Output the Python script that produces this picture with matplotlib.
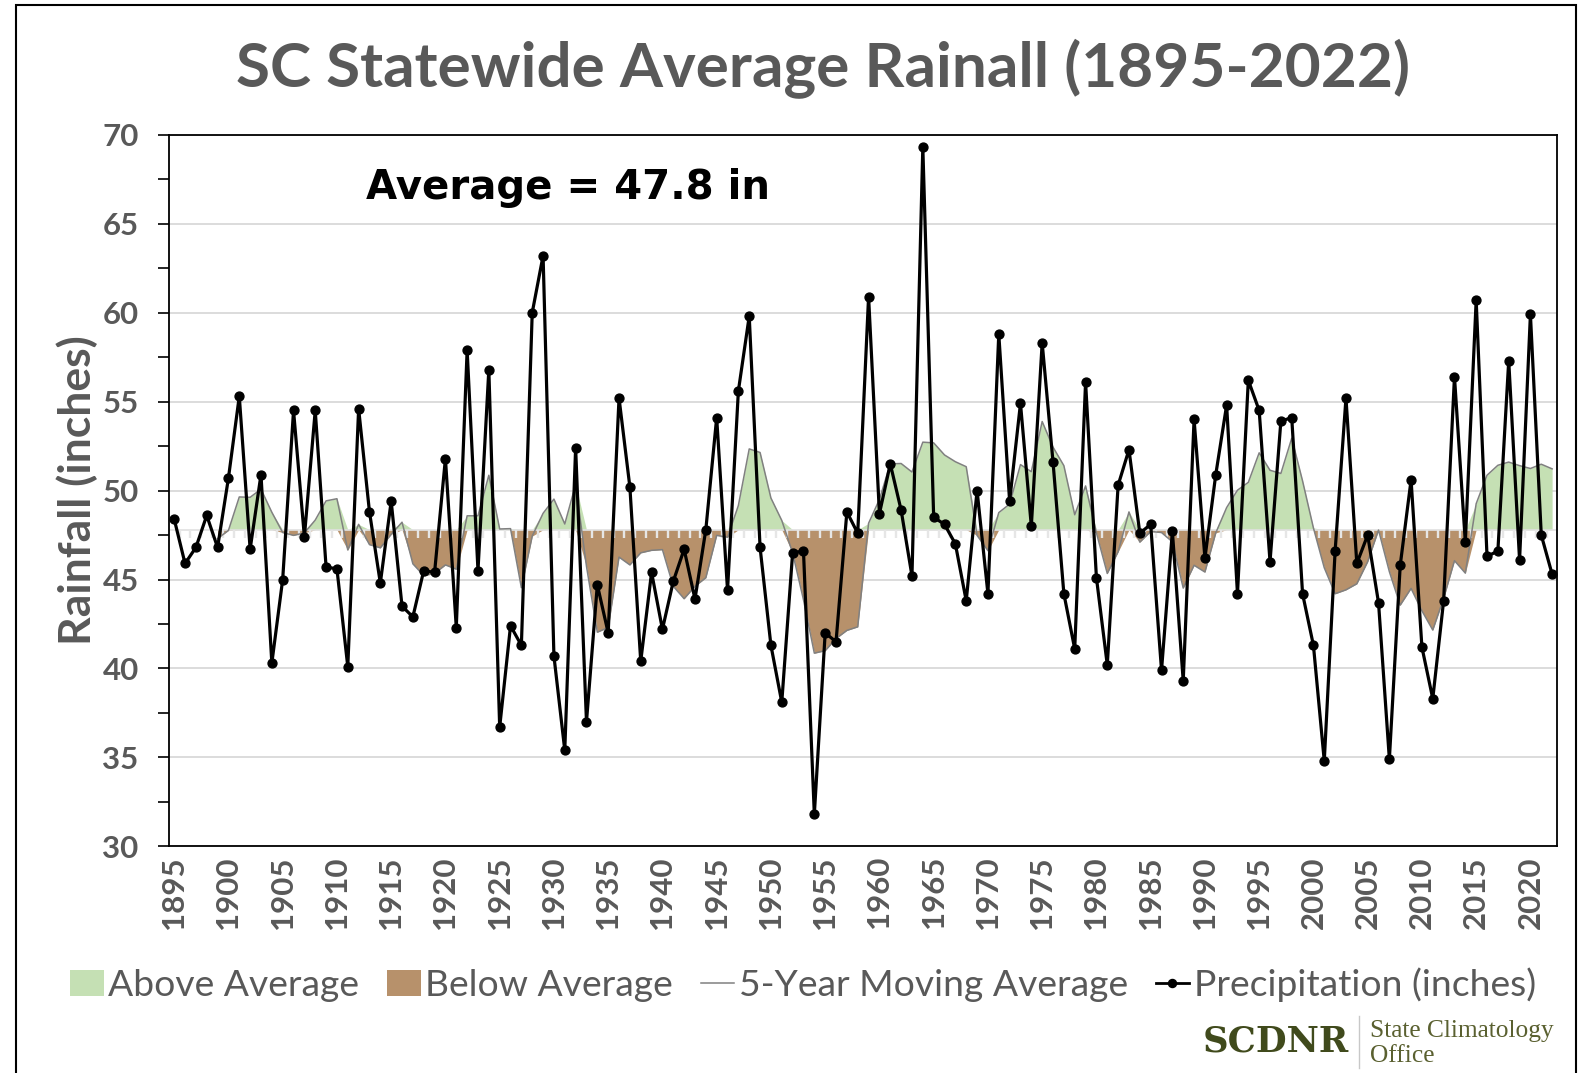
import matplotlib
matplotlib.use("Agg")
import matplotlib.pyplot as plt
import numpy as np
import pandas as pd
from matplotlib.patches import Patch, Rectangle
from matplotlib.lines import Line2D

# ---------------- data ----------------
years = list(range(1895, 2023))
precip = [
    48.4, 45.9, 46.8, 48.6, 46.8, 50.7, 55.3, 46.7, 50.9, 40.3,   # 1895-1904
    45.0, 54.5, 47.4, 54.5, 45.7, 45.6, 40.1, 54.6, 48.8, 44.8,   # 1905-1914
    49.4, 43.5, 42.9, 45.5, 45.4, 51.8, 42.3, 57.9, 45.5, 56.8,   # 1915-1924
    36.7, 42.4, 41.3, 60.0, 63.2, 40.7, 35.4, 52.4, 37.0, 44.7,   # 1925-1934
    42.0, 55.2, 50.2, 40.4, 45.4, 42.2, 44.9, 46.7, 43.9, 47.8,   # 1935-1944
    54.1, 44.4, 55.6, 59.8, 46.8, 41.3, 38.1, 46.5, 46.6, 31.8,   # 1945-1954
    42.0, 41.5, 48.8, 47.6, 60.9, 48.7, 51.5, 48.9, 45.2, 69.3,   # 1955-1964
    48.5, 48.1, 47.0, 43.8, 50.0, 44.2, 58.8, 49.4, 54.9, 48.0,   # 1965-1974
    58.3, 51.6, 44.2, 41.1, 56.1, 45.1, 40.2, 50.3, 52.3, 47.6,   # 1975-1984
    48.1, 39.9, 47.7, 39.3, 54.0, 46.2, 50.9, 54.8, 44.2, 56.2,   # 1985-1994
    54.5, 46.0, 53.9, 54.1, 44.2, 41.3, 34.8, 46.6, 55.2, 45.9,   # 1995-2004
    47.5, 43.7, 34.9, 45.8, 50.6, 41.2, 38.3, 43.8, 56.4, 47.1,   # 2005-2014
    60.7, 46.3, 46.6, 57.3, 46.1, 59.9, 47.5, 45.3,               # 2015-2022
]
average = 47.8
tick_years = list(range(1895, 2021, 5))
yticks = [30, 35, 40, 45, 50, 55, 60, 65, 70]

title = "SC Statewide Average Rainall (1895-2022)"
avg_label = "Average = 47.8 in"
ylabel = "Rainfall (inches)"
legend_labels = ["Above Average", "Below Average", "5-Year Moving Average", "Precipitation (inches)"]

# ---------------- derived ----------------
yrs = np.array(years, dtype=float)
pr = np.array(precip)
ma = pd.Series(pr).rolling(5).mean().to_numpy()
valid = ~np.isnan(ma)
above = np.where(valid, np.maximum(ma, average), np.nan)
below = np.where(valid, np.minimum(ma, average), np.nan)

# ---------------- style ----------------
GRAY_TXT = "#595959"
GREEN = "#c5e0b4"
BROWN = "#b7916b"
FONT = "Lato"

fig = plt.figure(figsize=(15.8, 10.73), dpi=100)
ax = fig.add_axes([169.3 / 1580, 1 - 846.4 / 1073, (1557 - 169.3) / 1580, (846.4 - 134.7) / 1073])

# fills
ax.fill_between(yrs[valid], average, above[valid], color=GREEN, linewidth=0, zorder=2)
ax.fill_between(yrs[valid], below[valid], average, color=BROWN, linewidth=0, zorder=2)
ax.plot(yrs, ma, color="#808080", linewidth=1.1, zorder=3)

# category axis at the average
ax.axhline(average, color="#e0e0e0", linewidth=1.2, zorder=2.5)
ax.vlines(yrs + 0.5, average - 0.45, average, color="#e6e6e6", linewidth=1.7, zorder=2.5)

# precipitation
ax.plot(yrs, pr, color="black", linewidth=2.3, marker="o", markersize=6.4, zorder=4)

ax.set_xlim(1894.55, 2022.45)
ax.set_ylim(30, 70)
ax.set_yticks(yticks)
ax.set_yticks(np.arange(32.5, 70, 5), minor=True)
ax.yaxis.grid(True, which="major", color="#d9d9d9", linewidth=1.3, zorder=0)
ax.set_axisbelow(True)
ax.set_xticks(tick_years)
ax.tick_params(axis="x", length=0, pad=7, labelrotation=90)
ax.tick_params(axis="y", which="both", length=8, width=1.2, color="black", pad=14)
for lab in ax.get_xticklabels() + ax.get_yticklabels():
    lab.set_fontfamily(FONT)
    lab.set_fontweight("bold")
    lab.set_fontsize(22.5)
    lab.set_color(GRAY_TXT)
for sp in ax.spines.values():
    sp.set_color("black")
    sp.set_linewidth(1.3)

ax.set_ylabel(ylabel, fontfamily=FONT, fontweight="bold", fontsize=32, color=GRAY_TXT, labelpad=3)

ax.text(0.142, 0.925, avg_label, transform=ax.transAxes, fontfamily="DejaVu Sans",
        fontweight="bold", fontsize=29, color="black", ha="left", va="center")

fig.text(823 / 1580, 1 - 69 / 1073, title, fontfamily=FONT, fontweight="bold", fontsize=44.7,
         color=GRAY_TXT, ha="center", va="center")

handles = [
    Patch(facecolor=GREEN, edgecolor="none"),
    Patch(facecolor=BROWN, edgecolor="none"),
    Line2D([0], [0], color="#808080", linewidth=1.1),
    Line2D([0], [0], color="black", linewidth=2.0, marker="o", markersize=5.8),
]
leg = fig.legend(handles, legend_labels, loc="center", bbox_to_anchor=(803 / 1580, 1 - 985 / 1073),
                 ncol=4, frameon=False, handlelength=0.9, handletextpad=0.12, columnspacing=0.75,
                 prop={"family": FONT, "size": 26.8})
for t in leg.get_texts():
    t.set_color(GRAY_TXT)

# logo
fig.text(1276 / 1580, 1 - 1042 / 1073, "SCDNR", fontfamily="DejaVu Serif", fontweight="bold",
         fontsize=25.5, color="#404a1c", ha="center", va="center")
fig.add_artist(Line2D([1359 / 1580, 1359 / 1580], [1 - 1016 / 1073, 1 - 1068 / 1073],
                      color="#c8c8c8", linewidth=1.0))
fig.text(1370 / 1580, 1 - 1031 / 1073, "State Climatology", fontfamily="Liberation Serif",
         fontsize=18.3, color="#5a6030", ha="left", va="center")
fig.text(1370 / 1580, 1 - 1056 / 1073, "Office", fontfamily="Liberation Serif",
         fontsize=18.3, color="#5a6030", ha="left", va="center")

# outer border
fig.add_artist(Rectangle((16 / 1580, -0.02), (1576 - 16) / 1580, 1 - 5 / 1073 + 0.02,
                         transform=fig.transFigure, fill=False, edgecolor="black", linewidth=1.5))

fig.savefig("out.png", dpi=100)
